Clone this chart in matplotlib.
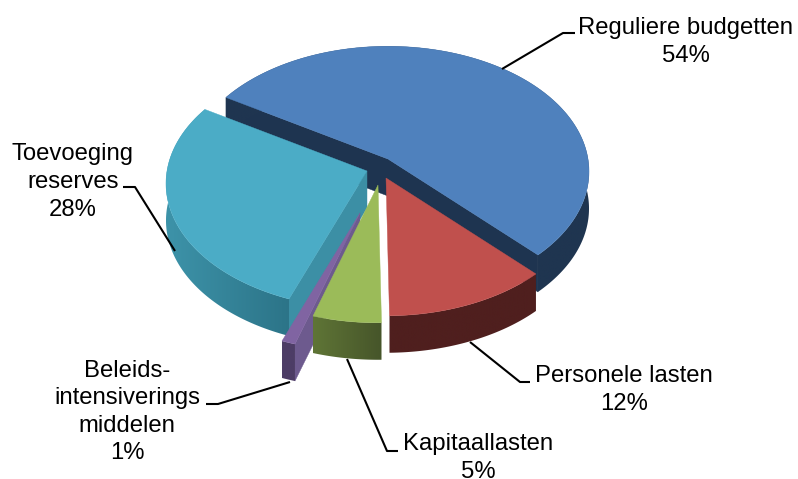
import numpy as np
import matplotlib
matplotlib.use('agg')
import matplotlib.pyplot as plt
from matplotlib.colors import LinearSegmentedColormap
from matplotlib.patches import Polygon

plt.rcParams['font.family'] = ['Liberation Sans', 'DejaVu Sans']

# data
categories = ['Reguliere budgetten', 'Personele lasten', 'Kapitaallasten',
              'Beleids-\nintensiverings\nmiddelen', 'Toevoeging\nreserves']
values = [54, 12, 5, 1, 28]

# look of the fake 3d pie (pixels)
apex_x = [388, 386, 378, 360, 367]
apex_y = [159, 178, 185, 213, 171]
top_colors = ['#4f81bd', '#c0504d', '#9bbb59', '#8064a2', '#4bacc6']
side_from = ['#1f3550', '#4f1f1e', '#5f7536', '#4d3d66', '#3d93a9']
side_to = ['#1f3550', '#4f1f1e', '#46552a', '#4d3d66', '#2c7488']
cut_colors = ['#1e3450', None, None, '#6d5a8e', '#3c8fa5']
draw_order = [0, 4, 3, 2, 1]
start_angle = -58.5
depth = 37
rx, ry, persp = 200, 124, 0.10

label_x = [686, 624, 478, 127, 73]
label_y = [42, 390, 458, 412, 182]
leaders = [[(502, 69), (563, 33), (575, 33)],
           [(470, 342), (520, 382), (530, 382)],
           [(347, 359), (387, 451), (398, 451)],
           [(290, 382), (218, 404), (206, 404)],
           [(175, 251), (135, 187), (123, 187)]]


def project(angle, ax0, ay0):
    # clockwise angle from the top, squashed with a bit of perspective
    t = np.radians(angle)
    u, v = np.sin(t), np.cos(t)
    p = 1 / (1 + persp * v)
    return ax0 + rx * u * p, ay0 - ry * v * p


fig = plt.figure(figsize=(7.98, 4.79), dpi=100)
ax = fig.add_axes([0, 0, 1, 1])

edges = start_angle + np.cumsum([0] + values) * 3.6

for i in draw_order:
    a0, a1 = edges[i], edges[i + 1]
    angles = np.linspace(a0, a1, max(int(a1 - a0), 3) * 2)
    xs, ys = project(angles, apex_x[i], apex_y[i])

    # cut faces
    if cut_colors[i] is not None:
        faces = [0, -1] if i == 0 else [0]
        for e in faces:
            ax.add_patch(Polygon([(apex_x[i], apex_y[i]), (xs[e], ys[e]),
                                  (xs[e], ys[e] + depth), (apex_x[i], apex_y[i] + depth)],
                                 fc=cut_colors[i], ec=cut_colors[i], lw=0.3))

    # outer rim, gradient image clipped to the rim shape
    rim = np.column_stack([np.r_[xs, xs[::-1]], np.r_[ys, ys[::-1] + depth]])
    rim_patch = Polygon(rim, fc='none', ec='none')
    ax.add_patch(rim_patch)
    cmap = LinearSegmentedColormap.from_list('rim', [side_from[i], side_to[i]])
    im = ax.imshow(np.linspace(0, 1, 256).reshape(1, -1), cmap=cmap, aspect='auto',
                   extent=(xs.min(), xs.max(), ys.max() + depth, ys.min()), zorder=1)
    im.set_clip_path(rim_patch)
    im.set_zorder(rim_patch.get_zorder())

    # top
    ax.add_patch(Polygon(np.column_stack([np.r_[apex_x[i], xs], np.r_[apex_y[i], ys]]),
                         fc=top_colors[i], ec=top_colors[i], lw=0.3))

for i, name in enumerate(categories):
    pts = np.array(leaders[i])
    ax.plot(pts[:, 0], pts[:, 1], color='black', lw=1.5, solid_capstyle='butt')
    ax.text(label_x[i], label_y[i], '%s\n%d%%' % (name, values[i]), ha='center', va='center',
            fontsize=17.2, color='black', linespacing=1.33)

ax.set_xlim(0, 798)
ax.set_ylim(479, 0)
ax.axis('off')

fig.savefig('out.png', dpi=100)
